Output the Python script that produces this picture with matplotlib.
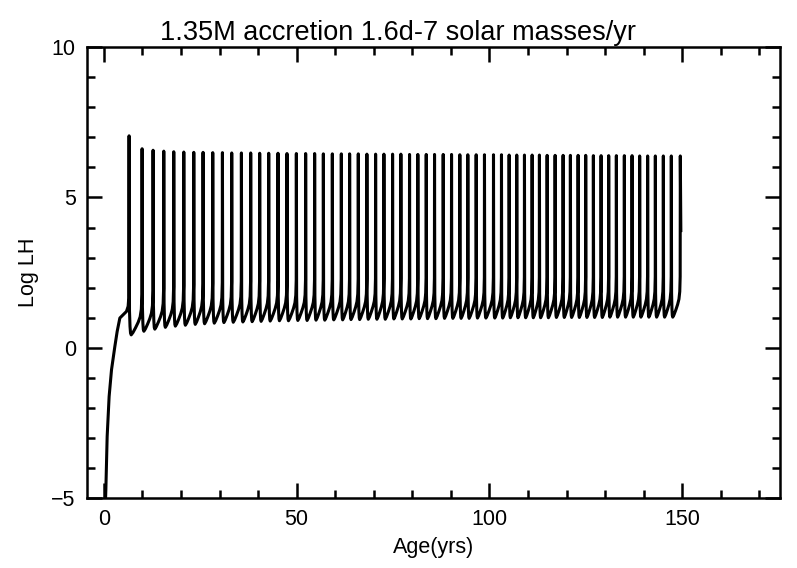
import matplotlib
matplotlib.use("Agg")
from matplotlib import pyplot as plt
from matplotlib.ticker import MultipleLocator

# early rise before the first flash
rise_age = [0.2, 0.52, 0.86, 1.37, 1.99, 2.85, 3.45, 4.15, 5.0, 5.87, 6.3, 6.45]
rise_logl = [-6.0, -4.72, -2.95, -1.62, -0.73, 0.04, 0.54, 0.99, 1.10, 1.21, 1.38, 1.65]

# flash times, flash peaks and the trough after each flash
flash_age = [
    6.55, 9.92, 12.77, 15.54, 18.13, 20.73, 23.32, 25.73, 28.24, 30.75,
    33.16, 35.67, 38.08, 40.41, 42.75, 45.16, 47.49, 49.92, 52.33, 54.66,
    56.92, 59.25, 61.58, 63.73, 65.98, 68.21, 70.47, 72.62, 74.87, 77.02,
    79.27, 81.42, 83.60, 85.75, 88.00, 90.16, 92.31, 94.38, 96.55, 98.70,
    101.04, 103.11, 105.10, 107.07, 109.07, 111.06, 112.95, 114.95, 117.02, 119.09,
    120.98, 122.98, 124.95, 126.94, 128.94, 130.91, 132.90, 134.97, 136.97, 138.94,
    141.01, 143.01, 145.08, 147.15, 149.48,
]
flash_peak = [
    7.05, 6.62, 6.57, 6.54, 6.52, 6.51, 6.50, 6.50, 6.49, 6.49,
    6.48, 6.48, 6.48, 6.47, 6.47, 6.47, 6.46, 6.46, 6.46, 6.46,
    6.45, 6.45, 6.45, 6.45, 6.45, 6.44, 6.44, 6.44, 6.44, 6.44,
    6.43, 6.43, 6.43, 6.43, 6.43, 6.43, 6.42, 6.42, 6.42, 6.42,
    6.42, 6.42, 6.41, 6.41, 6.41, 6.41, 6.41, 6.40, 6.40, 6.40,
    6.40, 6.40, 6.40, 6.39, 6.39, 6.39, 6.39, 6.39, 6.39, 6.38,
    6.38, 6.38, 6.38, 6.38, 6.38,
]
trough = [
    0.43, 0.55, 0.62, 0.68, 0.72, 0.75, 0.78, 0.80, 0.82, 0.84,
    0.85, 0.86, 0.87, 0.88, 0.89, 0.90, 0.90, 0.91, 0.91, 0.92,
    0.92, 0.93, 0.93, 0.94, 0.94, 0.95, 0.95, 0.95, 0.96, 0.96,
    0.96, 0.97, 0.97, 0.97, 0.98, 0.98, 0.98, 0.98, 0.99, 0.99,
    0.99, 0.99, 1.00, 1.00, 1.00, 1.00, 1.00, 1.00, 1.01, 1.01,
    1.01, 1.01, 1.01, 1.01, 1.01, 1.02, 1.02, 1.02, 1.02, 1.02,
    1.02, 1.02, 1.02, 1.02, 1.02,
]

# shape of one cycle between flashes: phase of the period, level above the trough
cycle_phase = [0.03, 0.07, 0.11, 0.16, 0.30, 0.50, 0.70, 0.85, 0.94, 0.985]
cycle_level = [0.80, 0.28, 0.06, 0.0, 0.08, 0.24, 0.42, 0.60, 0.85, 1.35]

end_age = 149.62
end_logl = 3.9

age = list(rise_age)
logl = list(rise_logl)
for k in range(len(flash_age) - 1):
    period = flash_age[k + 1] - flash_age[k]
    age.append(flash_age[k])
    logl.append(flash_peak[k])
    for ph, lv in zip(cycle_phase, cycle_level):
        age.append(flash_age[k] + ph * period)
        logl.append(trough[k] + lv)
age.append(flash_age[-1])
logl.append(flash_peak[-1])
age.append(end_age)
logl.append(end_logl)

plt.rcParams["font.family"] = ["Liberation Sans", "DejaVu Sans"]

fig = plt.figure(figsize=(7.97, 5.68), dpi=100)
ax = fig.add_axes([0.109, 0.123, 0.870, 0.794])
ax.plot(age, logl, color="black", lw=2.2, solid_joinstyle="round")

ax.set_xlim(-4.4, 175.4)
ax.set_ylim(-5, 10)
ax.xaxis.set_major_locator(MultipleLocator(50))
ax.xaxis.set_minor_locator(MultipleLocator(10))
ax.yaxis.set_major_locator(MultipleLocator(5))
ax.yaxis.set_minor_locator(MultipleLocator(1))
ax.tick_params(which="both", direction="in", top=True, right=True, width=1.8,
               labelsize=15.5, pad=8)
ax.tick_params(which="major", length=10.5)
ax.tick_params(which="minor", length=5.5)
for sp in ax.spines.values():
    sp.set_linewidth(1.8)

ax.set_xlabel("Age(yrs)", fontsize=15.5, labelpad=5)
ax.set_ylabel("Log LH", fontsize=15.5, labelpad=9)
fig.text(0.5, 0.93, "1.35M accretion 1.6d-7 solar masses/yr", ha="center",
         va="baseline", fontsize=19.5)

fig.savefig("out.png", dpi=100)
